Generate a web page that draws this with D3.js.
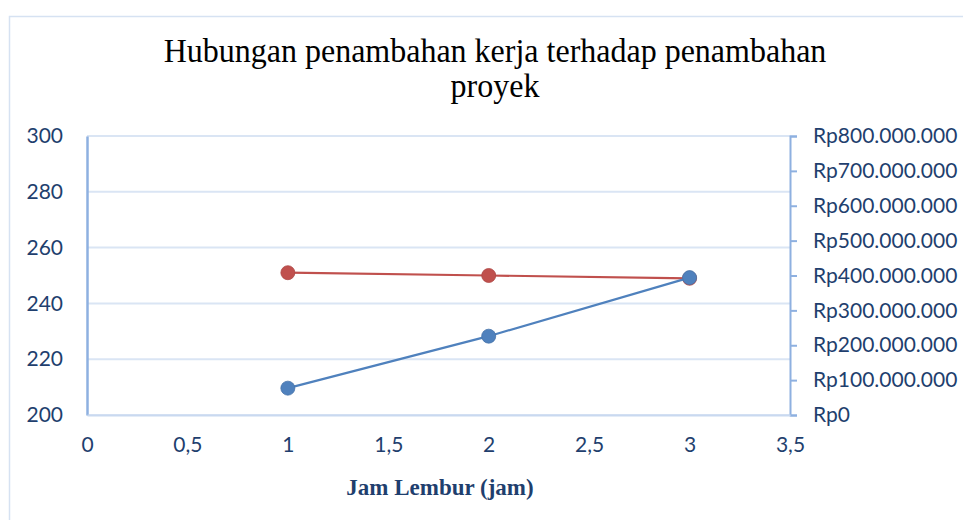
<!DOCTYPE html>
<html>
<head>
<meta charset="utf-8">
<script src="https://cdn.jsdelivr.net/npm/d3@7"></script>
<style>
  body { margin: 0; background: #fff; }
  .tick text { font-family: Lato, "Open Sans", sans-serif; font-size: 21px; fill: #1f3f6e; }
</style>
</head>
<body>
<div id="chart"></div>
<script>
// data
const jamLembur = [1, 2, 3];
const durasi = [251, 250, 249];                      // left axis
const biaya = [77000000, 226000000, 394000000];      // right axis (Rp)
const xTicks = [0, 0.5, 1, 1.5, 2, 2.5, 3, 3.5];
const leftTicks = [200, 220, 240, 260, 280, 300];
const rightTicks = [0, 100e6, 200e6, 300e6, 400e6, 500e6, 600e6, 700e6, 800e6];

const W = 963, H = 520;
const plot = { left: 87, right: 790, top: 136, bottom: 415 };

const svg = d3.select('#chart').append('svg')
  .attr('width', W)
  .attr('height', H);

// chart frame
svg.append('rect')
  .attr('x', 9.5).attr('y', 16.5)
  .attr('width', 1000).attr('height', 600)
  .attr('fill', 'none')
  .attr('stroke', '#d6e2f2')
  .attr('stroke-width', 1.5);

// title (narrow, tall serif as in the source)
const title = svg.append('text')
  .attr('text-anchor', 'middle')
  .attr('font-family', '"Liberation Serif", "Times New Roman", serif')
  .attr('font-size', 32)
  .attr('fill', '#000')
  .attr('transform', 'translate(495,0) scale(1,1.08)');
title.append('tspan').attr('x', 0).attr('y', 57).text('Hubungan penambahan kerja terhadap penambahan');
title.append('tspan').attr('x', 0).attr('y', 90).text('proyek');

const x = d3.scaleLinear().domain([0, 3.5]).range([plot.left, plot.right]);
const yL = d3.scaleLinear().domain([200, 300]).range([plot.bottom, plot.top]);
const yR = d3.scaleLinear().domain([0, 800e6]).range([plot.bottom, plot.top]);

// gridlines
svg.append('g')
  .selectAll('line')
  .data(leftTicks)
  .join('line')
    .attr('x1', plot.left).attr('x2', plot.right)
    .attr('y1', d => yL(d)).attr('y2', d => yL(d))
    .attr('stroke', '#dae5f4')
    .attr('stroke-width', 2);

// left axis
const axL = svg.append('g')
  .attr('transform', `translate(${plot.left},0)`)
  .call(d3.axisLeft(yL).tickValues(leftTicks).tickSize(0).tickPadding(24));
axL.select('.domain').attr('stroke', '#8eb0e0').attr('stroke-width', 2.5);

// right axis
const fmtRp = d => 'Rp' + d3.format(',')(d).replace(/,/g, '.');
const axR = svg.append('g')
  .attr('transform', `translate(${plot.right},0)`)
  .call(d3.axisRight(yR).tickValues(rightTicks).tickSize(7).tickSizeOuter(7).tickPadding(16).tickFormat(fmtRp));
axR.select('.domain').attr('stroke', '#8eb0e0').attr('stroke-width', 2);
axR.selectAll('.tick line').attr('stroke', '#8eb0e0').attr('stroke-width', 2);

// bottom axis
const axB = svg.append('g')
  .attr('transform', `translate(0,${plot.bottom})`)
  .call(d3.axisBottom(x).tickValues(xTicks).tickSize(0).tickPadding(22)
    .tickFormat(d => String(d).replace('.', ',')));
axB.select('.domain').attr('stroke', '#c9d9f0').attr('stroke-width', 2);

// x axis title
svg.append('text')
  .attr('x', 440).attr('y', 495)
  .attr('text-anchor', 'middle')
  .attr('font-family', '"Liberation Serif", "Times New Roman", serif')
  .attr('font-weight', 'bold')
  .attr('font-size', 23)
  .attr('fill', '#1f3f6e')
  .text('Jam Lembur (jam)');

// series
const series = [
  { values: durasi, y: yL, color: '#c0504d' },
  { values: biaya, y: yR, color: '#4f81bd' },
];

series.forEach(s => {
  const pts = jamLembur.map((j, i) => [j, s.values[i]]);
  svg.append('path')
    .datum(pts)
    .attr('fill', 'none')
    .attr('stroke', s.color)
    .attr('stroke-width', 2.2)
    .attr('d', d3.line().x(d => x(d[0])).y(d => s.y(d[1])));
  svg.append('g')
    .selectAll('circle')
    .data(pts)
    .join('circle')
      .attr('cx', d => x(d[0]))
      .attr('cy', d => s.y(d[1]))
      .attr('r', 7)
      .attr('fill', s.color)
      .attr('stroke', d3.color(s.color).darker(0.3))
      .attr('stroke-width', 0.8);
});
</script>
</body>
</html>
